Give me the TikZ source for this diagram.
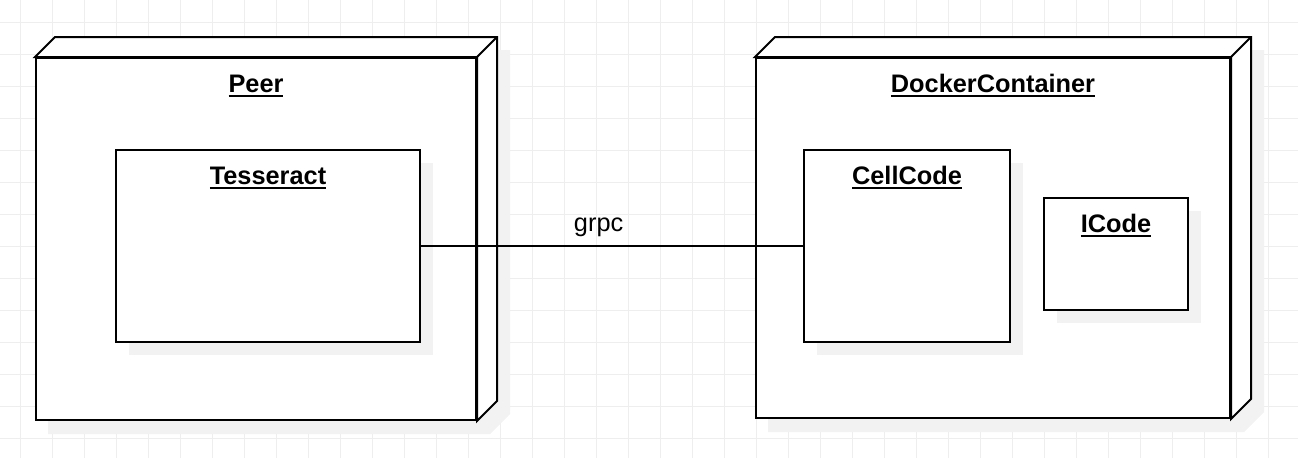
\documentclass[tikz,border=0pt]{standalone}
\usepackage{fontspec}
\setmainfont{Liberation Sans}
\usetikzlibrary{calc,shadows}
\definecolor{gridgray}{HTML}{EEEEEE}
\definecolor{shadowgray}{HTML}{F2F2F2}
\pgfdeclarelayer{back}
\pgfsetlayers{back,main}
% underlined node name
\newcommand{\ulname}[1]{\setbox0\hbox{#1}\rlap{\rule[-3.75pt]{\wd0}{1.5pt}}\box0}
% top and right faces of a 3d node
\newcommand{\nodefaces}[1]{%
\draw[edge, fill=white](#1.north west)--++(20,-20)--($(#1.north east)+(20,-20)$)
  --($(#1.south east)+(20,-20)$)--(#1.south east)--(#1.north east)--cycle;
\draw[edge](#1.north east)--++(20,-20);}
% shadow of a 3d node
\newcommand{\nodeshadow}[1]{%
\fill[shadowgray]($(#1.north west)+(13,13)$)--($(#1.north west)+(33,-7)$)
  --($(#1.north east)+(33,-7)$)--($(#1.south east)+(33,-7)$)
  --($(#1.south east)+(13,13)$)--($(#1.south west)+(13,13)$)--cycle;}
\tikzset{
  edge/.style={line width=1.5pt, line join=miter},
  outerbox/.style={edge, draw, fill=white, inner sep=0},
  innerbox/.style={edge, draw, fill=white, inner sep=0,
    drop shadow={shadow xshift=10pt, shadow yshift=-10pt, fill=shadowgray, opacity=1}},
  title/.style={anchor=base, inner sep=0, font=\fontsize{19}{23}\selectfont\bfseries},
}
\begin{document}
\begin{tikzpicture}[x=.75pt, y=-.75pt]
\useasboundingbox (0,0) rectangle (1298,458);
% grid
\begin{pgfonlayer}{back}
\foreach \gx in {20,52,...,1298} \draw[gridgray, line width=.75pt](\gx,0)--(\gx,458);
\foreach \gy in {22,54,...,458} \draw[gridgray, line width=.75pt](0,\gy)--(1298,\gy);
\end{pgfonlayer}
% Peer
\node[outerbox, minimum width=330pt, minimum height=271.5pt] (peer) at (256,239) {};
\begin{pgfonlayer}{back}\nodeshadow{peer}\end{pgfonlayer}
\nodefaces{peer}
\node[title] (peertitle) at ($(peer.north)+(0,35)$) {\ulname{Peer}};
\node[innerbox, minimum width=228pt, minimum height=144pt] (tess) at (268,246) {};
\node[title] (tesstitle) at ($(tess.north)+(0,35)$) {\ulname{Tesseract}};
% DockerContainer
\node[outerbox, minimum width=355.5pt, minimum height=270pt] (docker) at (993,238) {};
\begin{pgfonlayer}{back}\nodeshadow{docker}\end{pgfonlayer}
\nodefaces{docker}
\node[title] (dockertitle) at ($(docker.north)+(0,35)$) {\ulname{DockerContainer}};
\node[innerbox, minimum width=154.5pt, minimum height=144pt] (cell) at (907,246) {};
\node[title] (celltitle) at ($(cell.north)+(0,35)$) {\ulname{CellCode}};
\node[innerbox, minimum width=108pt, minimum height=84pt] (icode) at (1116,254) {};
\node[title] (icodetitle) at ($(icode.north)+(0,35)$) {\ulname{ICode}};
% connector
\draw[edge](tess.east)--node[above=6pt, inner sep=0, pos=.465, font=\fontsize{19}{23}\selectfont]{grpc}(cell.west);
\end{tikzpicture}
\end{document}
